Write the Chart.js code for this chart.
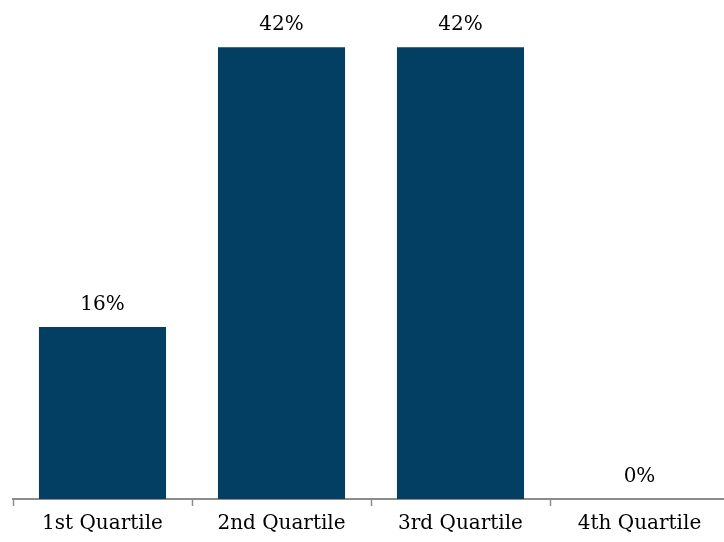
<!DOCTYPE html>
<html>
<head>
<meta charset="utf-8">
<script src="https://cdn.jsdelivr.net/npm/chart.js@4"></script>
<style>
  html, body { margin: 0; padding: 0; background: #fff; overflow: hidden; }
  #wrap { width: 729px; height: 542px; }
</style>
</head>
<body>
<div id="wrap"><canvas id="barChart"></canvas></div>
<script>
const categories = ['1st Quartile', '2nd Quartile', '3rd Quartile', '4th Quartile']
const shares = [16, 42, 42, 0]

const serif = '"DejaVu Serif", serif'

// percent labels above the bars
const valueLabels = {
  id: 'valueLabels',
  afterDatasetsDraw(chart) {
    const ctx = chart.ctx
    const meta = chart.getDatasetMeta(0)
    ctx.save()
    ctx.font = '20px ' + serif
    ctx.fillStyle = '#000'
    ctx.textAlign = 'center'
    ctx.textBaseline = 'alphabetic'
    meta.data.forEach((bar, i) => {
      ctx.fillText(shares[i] + '%', bar.x, bar.y - 17)
    })
    ctx.restore()
  }
}

new Chart(document.getElementById('barChart'), {
  type: 'bar',
  data: {
    labels: categories,
    datasets: [{
      data: shares,
      backgroundColor: '#023f63',
      categoryPercentage: 0.71,
      barPercentage: 1
    }]
  },
  options: {
    responsive: true,
    maintainAspectRatio: false,
    animation: false,
    layout: { padding: { left: 13, right: 0, top: 0, bottom: 0 } },
    plugins: { legend: { display: false }, tooltip: { enabled: false } },
    scales: {
      x: {
        grid: { offset: true, drawOnChartArea: false, tickLength: 7, tickColor: '#8c8c8c', tickWidth: 1.5 },
        border: { display: true, color: '#8c8c8c', width: 2 },
        ticks: { color: '#000', font: { family: serif, size: 20 }, padding: 6 }
      },
      y: {
        display: false,
        min: 0,
        max: 46.4
      }
    }
  },
  plugins: [valueLabels]
})
</script>
</body>
</html>
